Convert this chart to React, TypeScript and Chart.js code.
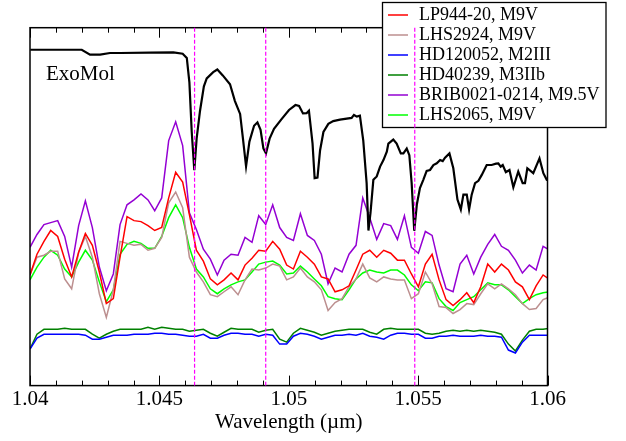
import React, { useEffect, useRef } from 'react';
import { Chart, registerables } from 'chart.js';

Chart.register(...registerables);

const starWavelength = [
  1.04000, 1.04027, 1.04054, 1.04080, 1.04107, 1.04134, 1.04161, 1.04188, 1.04214, 1.04241,
  1.04268, 1.04295, 1.04322, 1.04348, 1.04375, 1.04402, 1.04429, 1.04456, 1.04482, 1.04509,
  1.04536, 1.04563, 1.04590, 1.04616, 1.04643, 1.04670, 1.04697, 1.04724, 1.04750, 1.04777,
  1.04804, 1.04831, 1.04858, 1.04884, 1.04911, 1.04938, 1.04965, 1.04992, 1.05018, 1.05045,
  1.05072, 1.05099, 1.05126, 1.05152, 1.05179, 1.05206, 1.05233, 1.05260, 1.05286, 1.05313,
  1.05340, 1.05367, 1.05394, 1.05420, 1.05447, 1.05474, 1.05501, 1.05528, 1.05554, 1.05581,
  1.05608, 1.05635, 1.05662, 1.05688, 1.05715, 1.05742, 1.05769, 1.05796, 1.05822, 1.05849,
  1.05876, 1.05903, 1.05930, 1.05956, 1.05983, 1.06010,
];

const lp944 = [
  112, 133, 146, 157, 151, 128, 110, 135, 154, 142,
  115, 83, 88, 130, 171, 167, 166, 162, 157, 160,
  190, 216, 206, 173, 137, 126, 108, 102, 107, 114,
  107, 122, 129, 137, 136, 146, 138, 122, 118, 136,
  130, 123, 110, 108, 95, 97, 101, 117, 133, 137,
  130, 137, 134, 127, 127, 113, 100, 123, 133, 107,
  87, 81, 87, 94, 84, 100, 123, 115, 123, 117,
  105, 100, 87, 101, 112, 107,
];

const lhs2924 = [
  112, 130, 132, 136, 136, 108, 98, 135, 151, 130,
  93, 69, 97, 146, 144, 142, 143, 137, 139, 150,
  185, 196, 180, 130, 115, 105, 92, 90, 95, 100,
  92, 107, 118, 117, 119, 123, 121, 107, 110, 119,
  110, 105, 97, 76, 84, 88, 100, 108, 123, 109,
  105, 110, 108, 107, 107, 88, 93, 115, 103, 80,
  79, 73, 77, 83, 82, 93, 103, 98, 103, 98,
  92, 83, 77, 78, 87, 90,
];

const hd120052 = [
  37, 48, 52, 52, 52, 52, 52, 52, 51, 47,
  47, 49, 51, 51, 51, 52, 52, 52, 53, 53,
  52, 52, 51, 50, 50, 52, 48, 48, 51, 53,
  53, 52, 52, 50, 52, 51, 42, 42, 50, 53,
  52, 50, 47, 49, 51, 51, 52, 51, 53, 50,
  49, 47, 51, 53, 53, 52, 52, 48, 48, 50,
  50, 51, 50, 50, 50, 51, 50, 50, 49, 36,
  33, 44, 51, 51, 51, 51,
];

const hd40239 = [
  37, 52, 57, 57, 57, 58, 57, 57, 57, 52,
  48, 52, 55, 57, 57, 57, 57, 59, 57, 59,
  58, 57, 57, 55, 56, 57, 53, 50, 54, 58,
  57, 57, 57, 54, 56, 57, 47, 44, 53, 58,
  56, 54, 51, 53, 55, 56, 57, 57, 57, 54,
  52, 57, 58, 57, 57, 57, 57, 53, 52, 53,
  55, 56, 55, 56, 55, 56, 55, 54, 52, 42,
  35, 46, 55, 57, 57, 58,
];

const brib0021 = [
  140, 153, 163, 165, 167, 151, 120, 162, 187, 160,
  120, 96, 113, 163, 183, 188, 194, 188, 177, 190,
  248, 267, 243, 175, 158, 138, 128, 112, 127, 133,
  132, 150, 145, 172, 163, 183, 160, 150, 147, 174,
  152, 147, 133, 103, 119, 115, 133, 142, 190, 170,
  148, 164, 162, 148, 172, 140, 134, 156, 152, 122,
  98, 95, 123, 132, 113, 130, 143, 153, 141, 137,
  127, 114, 122, 117, 141, 137,
];

const lhs2065 = [
  107, 120, 130, 137, 132, 118, 110, 125, 137, 127,
  105, 85, 97, 133, 143, 146, 144, 139, 139, 151,
  170, 183, 170, 140, 118, 110, 98, 93, 98, 102,
  105, 107, 115, 123, 125, 126, 122, 113, 114, 121,
  115, 108, 101, 90, 88, 87, 97, 108, 114, 117,
  115, 114, 117, 117, 112, 102, 96, 105, 104, 88,
  80, 76, 84, 87, 90, 97, 104, 102, 102, 97,
  90, 83, 88, 92, 94, 95,
];

const exoWavelength = [
  1.04001, 1.04200, 1.04232, 1.04271, 1.04309, 1.04348, 1.04464, 1.04554, 1.04590, 1.04606,
  1.04616, 1.04625, 1.04635, 1.04644, 1.04657, 1.04672, 1.04683, 1.04708, 1.04724, 1.04745,
  1.04773, 1.04792, 1.04812, 1.04823, 1.04835, 1.04848, 1.04866, 1.04879, 1.04891, 1.04902,
  1.04912, 1.04926, 1.04943, 1.04973, 1.05001, 1.05026, 1.05040, 1.05055, 1.05069, 1.05078,
  1.05092, 1.05100, 1.05111, 1.05121, 1.05134, 1.05153, 1.05172, 1.05198, 1.05243, 1.05252,
  1.05263, 1.05275, 1.05288, 1.05301, 1.05308, 1.05316, 1.05327, 1.05340, 1.05353, 1.05366,
  1.05379, 1.05385, 1.05404, 1.05417, 1.05433, 1.05443, 1.05456, 1.05466, 1.05475, 1.05485,
  1.05495, 1.05507, 1.05520, 1.05533, 1.05546, 1.05559, 1.05572, 1.05585, 1.05595, 1.05604,
  1.05621, 1.05636, 1.05652, 1.05665, 1.05675, 1.05688, 1.05697, 1.05707, 1.05720, 1.05733,
  1.05746, 1.05765, 1.05784, 1.05801, 1.05810, 1.05819, 1.05827, 1.05839, 1.05853, 1.05868,
  1.05887, 1.05904, 1.05913, 1.05922, 1.05945, 1.05969, 1.05984, 1.05997, 1.06006,
];

const exoFlux = [
  340, 340, 335, 335, 336.7, 336.7, 337, 337.3, 336, 331.7,
  307, 257, 218, 250, 278, 303, 311, 317.3, 320, 314,
  305, 288, 275, 250, 222, 247, 263, 266.5, 259, 240,
  235, 250, 260, 270, 279, 284, 283, 275.5, 275.7, 278.3,
  245, 210, 210.5, 238, 256.7, 265, 267.7, 269.3, 271, 274,
  272.3, 273.3, 248, 205, 157, 175, 208.3, 211.7, 221.7, 228.3,
  236.7, 245, 249, 245, 235, 235, 240, 233.3, 205, 156.7,
  183.3, 200, 208.3, 217.3, 218.3, 223.3, 225, 228.3, 227.3, 230.7,
  235, 220, 188.3, 178.3, 193.3, 193.3, 178.3, 193.3, 205, 207.3,
  213.3, 223.3, 223.3, 224.7, 225, 221.7, 223.3, 216, 218.3, 200.7,
  216.7, 205, 205, 220, 215, 230, 215, 208.3, 207.7,
];

const markerLines = [1.04636, 1.04911, 1.05487];
const xTickLabels = ['1.04', '1.045', '1.05', '1.055', '1.06'];
const seriesNames = [
  'LP944-20, M9V',
  'LHS2924, M9V',
  'HD120052, M2III',
  'HD40239, M3IIb',
  'BRIB0021-0214, M9.5V',
  'LHS2065, M9V',
];
const seriesColors = ['#ff0000', '#bc8f8f', '#0000ff', '#008000', '#9400d3', '#00ff00'];
const seriesValues = [lp944, lhs2924, hd120052, hd40239, brib0021, lhs2065];
const modelLabel = 'ExoMol';

const FONT = '"Liberation Serif", "Times New Roman", serif';

const decorPlugin = {
  id: 'decor',
  afterDatasetsDraw(chart: any) {
    const { ctx, chartArea: a, scales } = chart;
    const x = scales.x;
    ctx.save();
    // frame
    ctx.strokeStyle = '#000';
    ctx.lineWidth = 1.5;
    ctx.setLineDash([]);
    ctx.strokeRect(a.left, a.top, a.right - a.left, a.bottom - a.top);
    // inward ticks on top & bottom
    ctx.lineWidth = 1;
    for (let i = 0; i <= 20; i++) {
      const v = 1.04 + i * 0.001;
      const px = Math.round(x.getPixelForValue(v)) + 0.5;
      const len = i % 5 === 0 ? 10 : 5;
      ctx.beginPath();
      ctx.moveTo(px, a.bottom);
      ctx.lineTo(px, a.bottom - len);
      ctx.moveTo(px, a.top);
      ctx.lineTo(px, a.top + len);
      ctx.stroke();
    }
    // model label
    ctx.fillStyle = '#000';
    ctx.font = `21px ${FONT}`;
    ctx.textBaseline = 'alphabetic';
    ctx.textAlign = 'left';
    ctx.fillText(modelLabel, 46, 80);
    // legend box
    const lx = 382.5, ly = 2.5, lw = 223.5, lh = 125;
    ctx.fillStyle = '#fff';
    ctx.fillRect(lx, ly, lw, lh);
    ctx.strokeStyle = '#000';
    ctx.lineWidth = 1.3;
    ctx.strokeRect(lx, ly, lw, lh);
    ctx.font = `18px ${FONT}`;
    seriesNames.forEach((name, i) => {
      const base = 20 + i * 20;
      ctx.strokeStyle = seriesColors[i];
      ctx.lineWidth = 1.5;
      ctx.beginPath();
      ctx.moveTo(388, base - 5);
      ctx.lineTo(408, base - 5);
      ctx.stroke();
      ctx.fillStyle = '#000';
      ctx.fillText(name, 419, base);
    });
    // dashed marker lines
    ctx.strokeStyle = '#ff00ff';
    ctx.lineWidth = 1.2;
    ctx.setLineDash([4, 2]);
    markerLines.forEach((m) => {
      const px = x.getPixelForValue(m);
      ctx.beginPath();
      ctx.moveTo(px, a.top);
      ctx.lineTo(px, a.bottom);
      ctx.stroke();
    });
    ctx.restore();
  },
};

export default function App() {
  const ref = useRef<HTMLCanvasElement>(null);
  useEffect(() => {
    if (!ref.current) return;
    const datasets: any[] = [
      {
        label: modelLabel,
        data: exoWavelength.map((w, i) => ({ x: w, y: exoFlux[i] })),
        borderColor: '#000000',
        borderWidth: 2.2,
      },
      ...seriesNames.map((name, s) => ({
        label: name,
        data: starWavelength.map((w, i) => ({ x: w, y: seriesValues[s][i] })),
        borderColor: seriesColors[s],
        borderWidth: 1.5,
      })),
    ].map((d) => ({ ...d, pointRadius: 0, tension: 0, fill: false }));

    const chart = new Chart(ref.current, {
      type: 'line',
      data: { datasets },
      options: {
        responsive: false,
        animation: false,
        devicePixelRatio: 1,
        layout: { padding: { left: 30, right: 78.5, top: 27.7, bottom: 8.6 } },
        plugins: { legend: { display: false }, tooltip: { enabled: false } },
        scales: {
          x: {
            type: 'linear',
            min: 1.04,
            max: 1.06,
            border: { display: false },
            grid: { display: false, drawTicks: false, tickLength: 0 },
            ticks: {
              stepSize: 0.005,
              padding: 4.5,
              color: '#000',
              maxRotation: 0,
              autoSkip: false,
              font: { family: FONT, size: 21, lineHeight: 0.9 },
              callback: (_v: any, i: number) => xTickLabels[i] ?? '',
            },
            title: {
              display: true,
              text: 'Wavelength (µm)',
              color: '#000',
              font: { family: FONT, size: 21, lineHeight: 0.9 },
              padding: { top: 0, bottom: 0 },
            },
          },
          y: { display: false, min: 0, max: 362.3 },
        },
      },
      plugins: [decorPlugin],
    } as any);
    return () => chart.destroy();
  }, []);

  return (
    <div style={{ position: 'fixed', left: 0, top: 0, width: 626, height: 441, background: '#fff' }}>
      <canvas ref={ref} width={626} height={441} style={{ display: 'block' }} />
    </div>
  );
}
